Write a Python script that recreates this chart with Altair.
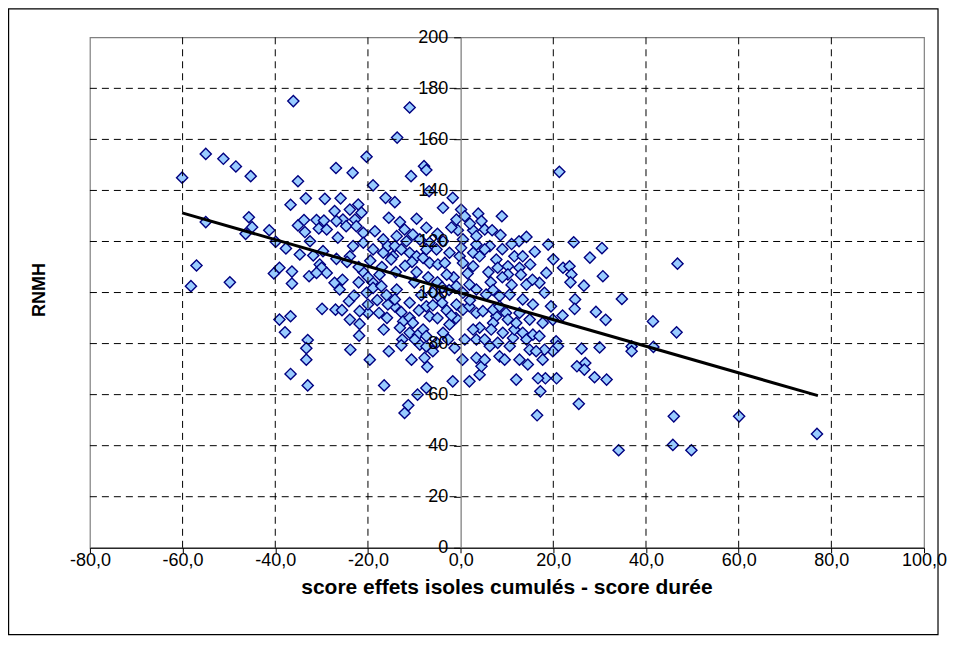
import altair as alt
import pandas as pd

# ---- scatter values (x = score effets isoles cumulés - score durée, y = RNMH) ----
left_x = [-60.1,-55.0,-51.2,-48.5,-45.3,-55.0,-45.7,-45.0,-46.4,-41.3,-39.9,-37.7,-57.0,-36.7,-35.1,-36.1,
          -33.4,-29.3,-35.1,-33.8,-33.6,-31.1,-29.5,-30.6,-28.9,-32.5,-34.7,-31.8,-29.7,-30.4,-30.0,-28.9,
          -40.3,-39.1,-36.4,-36.4,-32.7,-31.1,-49.8,-58.2,-29.9,-39.1,-36.7,-37.9,-33.0,-33.3,-33.3,-36.7,
          -33.0,-27.2,-26.1]
left_y = [145.0,154.3,152.4,149.4,145.6,127.6,129.5,125.6,123.0,124.4,119.9,117.3,110.6,134.4,143.6,175.0,
          136.9,136.7,126.3,128.4,123.7,128.4,128.2,125.1,124.7,120.1,114.9,114.5,116.2,111.0,109.7,107.7,
          107.5,109.7,108.2,103.5,106.4,107.7,104.0,102.5,93.6,89.4,90.7,84.4,81.4,78.2,73.7,68.1,
          63.6,103.8,101.2]

upper_x = [-26.9,-23.3,-20.3,-18.9,-13.7,-11.0,-10.7,-7.9,-7.4,-6.8,-25.9,-16.2,-14.2,-15.5,-22.1,-21.4,
           -23.9,-27.2,-22.8,-25.4,-26.8,-24.7,-22.5,-21.0,-13.1,-9.5,-12.1,-10.3,-8.8,-6.7,-5.2,-7.4,
           -26.5,-23.2,-21.0,-18.5,-16.7,-15.7,-13.8,-11.7,-14.2,-18.9,-16.7,-14.6,-26.8,-12.8,-11.0,-9.5,
           -8.1,-7.4,-6.7,-4.9,-23.9,-10.5,-5.0,-21.0,-19.0]
upper_y = [148.8,146.9,153.2,142.0,160.7,172.5,145.6,149.5,148.0,139.7,136.9,137.1,135.4,129.3,134.5,131.3,
           132.5,131.9,128.6,128.6,128.0,126.0,126.0,123.4,127.6,128.9,124.7,122.7,120.8,119.5,116.9,125.4,
           121.5,118.2,119.5,124.0,120.8,118.2,122.1,120.1,118.2,116.9,115.6,114.2,113.2,116.9,115.6,114.2,
           113.6,116.9,111.6,111.0,114.2,112.0,123.0,108.0,104.0]

axis_x = [-1.7,-3.8,0.1,-0.9,0.9,3.8,4.5,5.2,8.9,-0.6,2.7,6.8,8.6,12.6,14.2,18.9,24.4,30.5,27.9,46.8,21.3,
          -3.8,0.5,3.4,6.3,-2.4,-0.2,2.7,4.1,-3.4,0.5,2.7,0.1,3.4,5.2,
          7.7,8.0,10.2,11.6,13.4,12.7,10.2,18.5,22.1,23.5,23.9,30.7,
          -2.0,2.0,9.0,15.0,16.0,20.0,11.0,-1.5,1.5,6.0]
axis_y = [137.1,133.2,132.5,128.6,129.9,130.9,128.0,124.7,129.9,124.4,124.4,124.4,122.5,120.1,121.8,118.8,119.7,117.4,113.7,111.3,147.3,
          120.1,120.8,118.8,118.2,115.6,114.2,115.6,114.2,111.6,111.6,110.3,117.5,122.1,116.9,
          112.9,109.7,110.3,114.2,114.2,109.7,107.1,107.7,109.7,110.3,107.1,106.4,
          125.5,127.0,117.0,111.0,116.0,113.0,119.0,106.0,107.5,108.0]

lower_x = [-27.0,-25.6,-24.1,-23.0,-23.9,-21.8,-21.9,-23.8,-19.6,-15.5,-16.5,-11.3,-12.1,-9.3,-7.2,-10.6,
           -7.8,-20.0,-17.6,-15.9,-16.6,-14.2,-15.7,-12.8,-12.4,-11.0,-13.1,-12.6,-12.8,-11.0,-9.2,-8.8,
           -7.4,-1.7,-7.4,-21.8,-20.3,-18.9,-20.0,-17.1,-8.1,-7.4,-5.2,-6.0,-2.4,-3.8,-2.7,-1.3,0.4,
           -13.8,-14.2,-11.0,-10.3,-9.9,-7.4,-6.7,-0.9,0.5,1.9,3.4,4.8,5.5,4.1,2.7,-0.9,1.9,3.4,0.5,
           -24.5,-22.0,-19.5,-17.0,-15.0,-20.0,-17.5,-14.0,-12.0,-9.5,-7.0,-10.0,-5.0,-3.0,-25.5,-22.0,
           -4.5,-2.5,-6.0,-8.5,-3.0,-5.0,-1.0,-4.0,-4.0,2.0,-2.0,-6.0,-9.0,-18.0,-16.0]
lower_y = [93.3,93.1,96.6,98.8,89.4,87.7,83.1,77.6,73.7,77.0,63.6,55.8,52.8,60.0,70.9,73.7,
           74.4,92.0,92.0,90.1,85.5,94.6,95.3,92.3,88.7,90.1,86.2,81.6,79.3,84.2,83.5,79.6,
           78.9,65.2,62.6,92.7,99.9,101.8,95.3,102.5,85.5,82.9,80.3,77.0,87.5,84.2,81.6,78.3,73.7,
           101.2,97.3,96.0,88.1,81.6,94.6,90.7,95.3,93.3,94.6,92.0,92.7,99.2,86.2,85.5,102.5,103.1,101.2,99.9,
           112.0,110.0,112.5,110.0,113.0,106.0,107.0,108.0,110.5,108.0,106.0,104.0,104.0,107.0,105.0,104.0,
           98.0,101.0,100.0,99.0,93.0,90.0,90.0,96.0,102.0,97.0,91.0,95.0,93.0,97.0,99.0]

right_x = [1.9,4.1,4.5,0.9,3.4,5.2,3.4,5.2,6.3,8.0,10.6,11.3,9.1,11.6,13.4,14.2,15.6,17.0,19.5,17.7,
           15.6,13.4,18.1,14.2,17.0,23.7,26.6,8.4,10.6,9.8,7.7,12.7,14.9,12.0,7.0,19.9,
           34.8,29.2,31.3,24.7,24.6,22.0,26.1,30.0,36.9,36.9,25.1,26.9,26.7,28.9,31.5,20.7,18.3,16.7,
           17.2,12.0,25.5,20.6,21.0,19.9,18.1,17.7,14.5,12.7,14.9,16.3,8.4,9.5,
           46.6,41.5,41.6,16.5,34.1,46.0,60.1,45.8,49.8,76.9,6.5,9.0,11.0,13.0,15.5,7.0,
           7.0,8.4,10.2,6.6]
right_y = [65.2,67.8,71.1,81.6,81.6,81.6,74.4,73.7,79.0,80.3,79.0,82.2,84.2,85.5,84.2,81.6,83.5,82.9,94.6,88.1,
           95.3,97.3,99.9,103.1,103.8,104.0,102.7,98.6,99.2,92.0,90.7,92.0,89.4,88.1,88.1,89.4,
           97.5,92.4,89.3,97.3,93.6,91.0,78.0,78.5,78.9,77.0,71.1,72.4,69.8,66.8,65.9,66.4,66.4,66.4,
           61.3,65.9,56.4,80.9,79.0,77.0,77.6,73.7,71.8,73.7,77.6,77.0,75.0,73.7,
           84.4,88.7,78.7,51.9,38.2,51.5,51.5,40.3,38.2,44.6,104.0,106.0,103.0,107.0,105.0,101.0,
           93.3,94.6,89.4,85.5]

# linear trend line end points
trend_x = [-60.1, 77.1]
trend_y = [131.2, 59.6]

# axes
x_ticks = [-80, -60, -40, -20, 0, 20, 40, 60, 80, 100]
y_ticks = [0, 20, 40, 60, 80, 100, 120, 140, 160, 180, 200]
grid_x = [-60, -40, -20, 20, 40, 60, 80]
grid_y = [20, 40, 60, 80, 100, 120, 140, 160, 180]

x_title = "score effets isoles cumulés - score durée"
y_title = "RNMH"

# ---------------------------------------------------------------------------
W, H = 835, 511
FONT = "Liberation Sans"

xs = left_x + upper_x + axis_x + lower_x + right_x
ys = left_y + upper_y + axis_y + lower_y + right_y
pts = pd.DataFrame({"x": xs, "y": ys})

xscale = alt.Scale(domain=[-80, 100], nice=False, zero=False)
yscale = alt.Scale(domain=[0, 200], nice=False, zero=False)

x_axis = alt.Axis(values=x_ticks, title="", grid=False,
                  labelExpr="replace(replace(format(datum.value, '.1f'), '.', ','), '\u2212', '-')",
                  labelFont=FONT, labelFontSize=18, labelColor="black",
                  labelOverlap=False, labelFlush=False, labelPadding=-1,
                  domainColor="black", domainWidth=1.2,
                  tickColor="black", tickSize=5, tickWidth=1)
y_axis = alt.Axis(values=y_ticks, title="", grid=False, format="d",
                  offset=-W * 80 / 180, zindex=1,
                  labelFont=FONT, labelFontSize=18, labelColor="black",
                  labelOverlap=False, labelFlush=False, labelPadding=6,
                  domainColor="#777777", domainWidth=1.2,
                  tickColor="black", tickSize=7, tickWidth=1)

dash = [7, 5]

points = alt.Chart(pts).mark_point(
    shape="diamond", filled=True, fill="#99CCFF", stroke="#000080",
    strokeWidth=1.4, size=125, opacity=1, fillOpacity=1
).encode(
    x=alt.X("x:Q", scale=xscale, axis=x_axis),
    y=alt.Y("y:Q", scale=yscale, axis=y_axis),
)

gx = alt.Chart(pd.DataFrame({"x": grid_x})).mark_rule(
    color="black", strokeWidth=1, strokeDash=dash
).encode(x=alt.X("x:Q", scale=xscale, axis=x_axis))

gy = alt.Chart(pd.DataFrame({"y": grid_y})).mark_rule(
    color="black", strokeWidth=1, strokeDash=dash
).encode(y=alt.Y("y:Q", scale=yscale, axis=y_axis))

trend = alt.Chart(pd.DataFrame({"x": trend_x, "y": trend_y})).mark_line(
    color="black", strokeWidth=3
).encode(x=alt.X("x:Q", scale=xscale, axis=x_axis), y=alt.Y("y:Q", scale=yscale, axis=y_axis))

xt = alt.Chart(pd.DataFrame({"t": [x_title]})).mark_text(
    font=FONT, fontSize=21, fontWeight="bold", color="black", baseline="middle", align="center"
).encode(x=alt.value(W / 2), y=alt.value(551), text="t:N")

yt = alt.Chart(pd.DataFrame({"t": [y_title]})).mark_text(
    font=FONT, fontSize=18, fontWeight="bold", color="black", baseline="middle", align="center", angle=270
).encode(x=alt.value(-50), y=alt.value(253), text="t:N")

frame = alt.Chart(pd.DataFrame({"a": [0]})).mark_rect(
    fill="transparent", stroke="black", strokeWidth=1.2
).encode(x=alt.value(-81.4), x2=alt.value(849), y=alt.value(-28.4), y2=alt.value(598))

chart = alt.layer(points, frame, gx, gy, trend, xt, yt).properties(
    width=W, height=H,
    autosize=alt.AutoSizeParams(type="none"),
    padding={"left": 82, "top": 29, "right": 23, "bottom": 95},
).configure_view(stroke="#808080", strokeWidth=1.2)

chart.save("out.html", embed_options={"renderer": "svg", "actions": False})
